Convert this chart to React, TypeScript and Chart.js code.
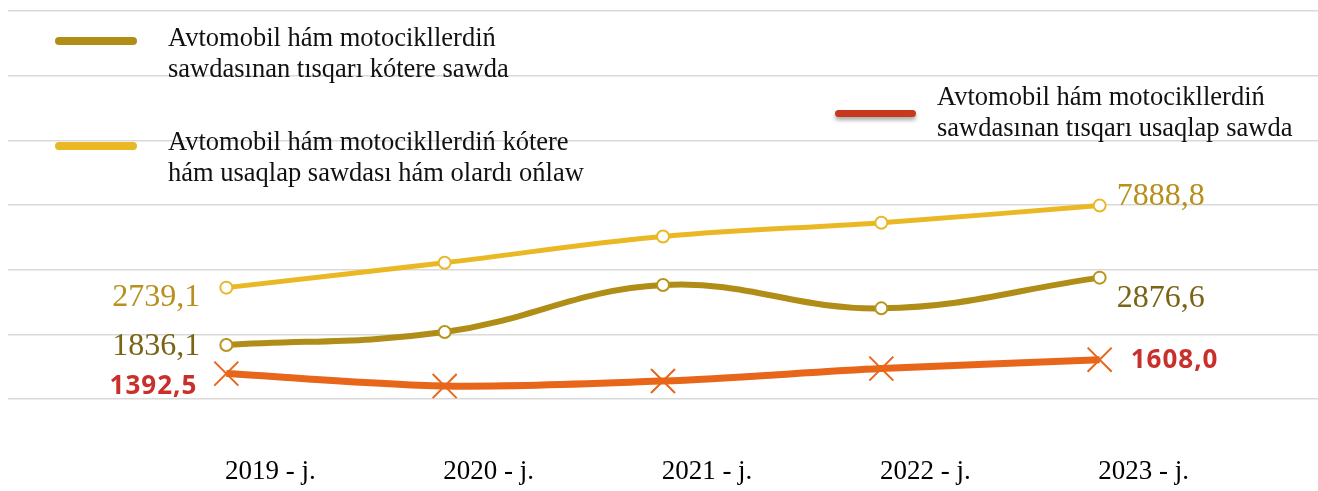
import React, { useEffect, useRef } from 'react';
import { Chart, registerables } from 'chart.js';

Chart.register(...registerables);

// ---- data ----
const categories = ['2019 - j.', '2020 - j.', '2021 - j.', '2022 - j.', '2023 - j.'];
const retailAndRepairName = 'Avtomobil hám motocikllerdiń kótere hám usaqlap sawdası hám olardı ońlaw';
const wholesaleName = 'Avtomobil hám motocikllerdiń sawdasınan tısqarı kótere sawda';
const retailName = 'Avtomobil hám motocikllerdiń sawdasınan tısqarı usaqlap sawda';
const retailAndRepair = [2739.1, 4304, 5949, 6815, 7888.8];
const wholesale = [1836.1, 2035, 2762, 2402, 2876.6];
const retail = [1392.5, 1200, 1278, 1470, 1608.0];

const YELLOW = '#E9B824';
const GOLD = '#B08D17';
const ORANGE = '#E8661A';

type LabelPos = { dx: number; dy: number; align: CanvasTextAlign };
type LabelStyle = { first: LabelPos; last: LabelPos; color: string; font: string; spacing: string };

const labelStyles: LabelStyle[] = [
  { first: { dx: -26, dy: 10, align: 'right' }, last: { dx: 17, dy: -9, align: 'left' }, color: '#B8901E', font: '32px "Liberation Serif"', spacing: '0px' },
  { first: { dx: -26, dy: 2, align: 'right' }, last: { dx: 17, dy: 21, align: 'left' }, color: '#7A6416', font: '32px "Liberation Serif"', spacing: '0px' },
  { first: { dx: -29, dy: 13, align: 'right' }, last: { dx: 31, dy: 1, align: 'left' }, color: '#C9302C', font: 'bold 26px "Open Sans"', spacing: '1px' },
];

const fmt = (v: number) => v.toFixed(1).replace('.', ',');

const endLabels = {
  id: 'endLabels',
  afterDatasetsDraw(chart: any) {
    const ctx = chart.ctx as CanvasRenderingContext2D;
    chart.data.datasets.forEach((ds: any, i: number) => {
      const meta = chart.getDatasetMeta(i);
      const st = labelStyles[i];
      const pts = meta.data;
      const items = [
        { p: pts[0], v: ds.data[0].y, pos: st.first },
        { p: pts[pts.length - 1], v: ds.data[ds.data.length - 1].y, pos: st.last },
      ];
      ctx.save();
      ctx.font = st.font;
      ctx.fillStyle = st.color;
      ctx.textBaseline = 'middle';
      (ctx as any).letterSpacing = st.spacing;
      items.forEach(({ p, v, pos }) => {
        ctx.textAlign = pos.align;
        ctx.fillText(fmt(v), p.x + pos.dx, p.y + pos.dy);
      });
      ctx.restore();
    });
  },
};

const toXY = (arr: number[]) => arr.map((y, x) => ({ x, y }));

const legendText: React.CSSProperties = {
  position: 'absolute',
  fontFamily: '"Liberation Serif", "Times New Roman", serif',
  fontSize: 26.5,
  lineHeight: '31px',
  color: '#111',
  whiteSpace: 'nowrap',
};

const swatch = (color: string, extra: React.CSSProperties = {}): React.CSSProperties => ({
  position: 'absolute',
  height: 8,
  borderRadius: 4,
  background: color,
  ...extra,
});

export default function App() {
  const ref = useRef<HTMLCanvasElement | null>(null);

  useEffect(() => {
    if (!ref.current) return;
    const chart = new Chart(ref.current, {
      type: 'line',
      data: {
        datasets: [
          {
            label: retailAndRepairName,
            data: toXY(retailAndRepair),
            yAxisID: 'y1',
            borderColor: YELLOW,
            borderWidth: 5,
            tension: 0.4,
            pointRadius: 6,
            pointBorderWidth: 2,
            pointBackgroundColor: '#ffffff',
            pointBorderColor: YELLOW,
          },
          {
            label: wholesaleName,
            data: toXY(wholesale),
            yAxisID: 'y',
            borderColor: GOLD,
            borderWidth: 6,
            tension: 0.4,
            pointRadius: 6,
            pointBorderWidth: 2,
            pointBackgroundColor: '#ffffff',
            pointBorderColor: '#B8941C',
          },
          {
            label: retailName,
            data: toXY(retail),
            yAxisID: 'y',
            borderColor: ORANGE,
            borderWidth: 7,
            tension: 0.3,
            pointStyle: 'crossRot',
            pointRadius: 17,
            pointBorderWidth: 2,
            pointBorderColor: ORANGE,
          },
        ],
      },
      options: {
        responsive: false,
        animation: false,
        layout: { autoPadding: false, padding: { left: 8, right: 0, top: 11, bottom: 0 } },
        plugins: { legend: { display: false }, tooltip: { enabled: false } },
        scales: {
          x: {
            type: 'linear',
            min: -1,
            max: 5,
            grid: { display: false, drawTicks: false },
            border: { display: false },
            afterBuildTicks: (scale: any) => {
              scale.ticks = categories.map((_, i) => ({ value: i }));
            },
            afterFit: (scale: any) => {
              scale.height = 92;
            },
            ticks: {
              autoSkip: false,
              maxRotation: 0,
              padding: 57,
              labelOffset: 44,
              color: '#000',
              font: { family: '"Liberation Serif"', size: 27 },
              callback: (v: any) => categories[v] ?? '',
            },
          },
          y: {
            min: 1000,
            max: 7000,
            ticks: { display: false, stepSize: 1000 },
            grid: { color: '#d9d9d9', lineWidth: 1.5, drawTicks: false },
            border: { display: false },
            afterFit: (scale: any) => {
              scale.width = 0;
            },
          },
          y1: {
            display: false,
            min: -4250,
            max: 20100,
          },
        },
      },
      plugins: [endLabels],
    } as any);
    return () => chart.destroy();
  }, []);

  return (
    <div style={{ position: 'fixed', left: 0, top: 0, width: 1318, height: 491, background: '#fff' }}>
      <canvas ref={ref} width={1318} height={491} style={{ position: 'absolute', left: 0, top: 0 }} />
      <div style={swatch(GOLD, { left: 55, top: 37, width: 82 })} />
      <div style={{ ...legendText, left: 168, top: 22 }}>
        Avtomobil hám motocikllerdiń
        <br />
        sawdasınan tısqarı kótere sawda
      </div>
      <div style={swatch(YELLOW, { left: 55, top: 142, width: 82 })} />
      <div style={{ ...legendText, left: 168, top: 126 }}>
        Avtomobil hám motocikllerdiń kótere
        <br />
        hám usaqlap sawdası hám olardı ońlaw
      </div>
      <div style={swatch('#C8381E', { left: 835, top: 110, width: 81, height: 7, boxShadow: '0 3px 4px rgba(0,0,0,0.35)' })} />
      <div style={{ ...legendText, left: 937, top: 81 }}>
        Avtomobil hám motocikllerdiń
        <br />
        sawdasınan tısqarı usaqlap sawda
      </div>
    </div>
  );
}
